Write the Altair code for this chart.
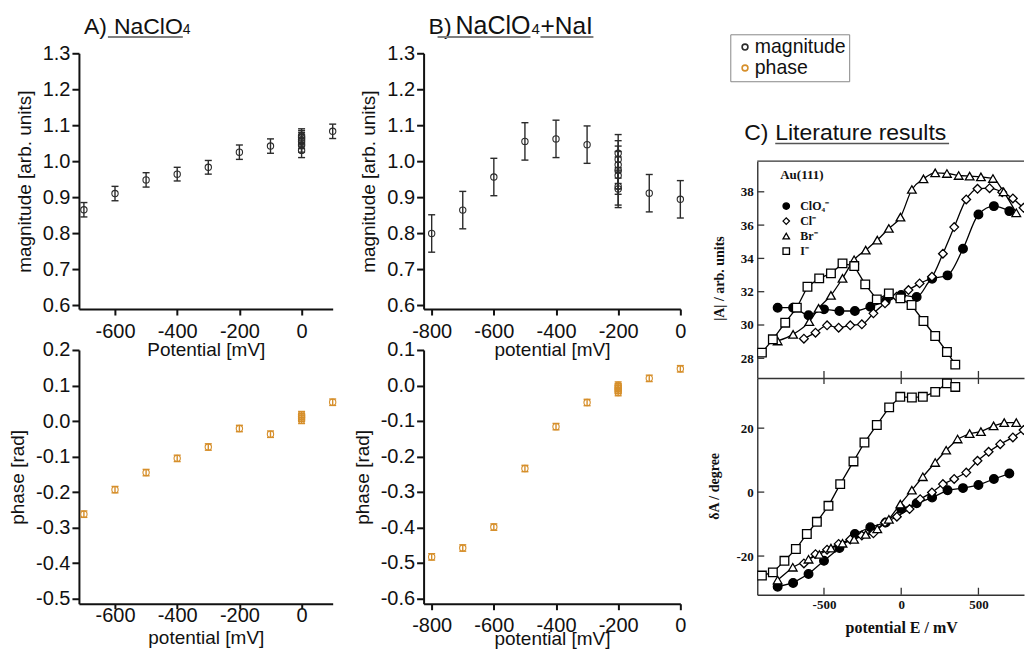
import altair as alt
import pandas as pd

SANS = "Liberation Sans"
SERIF = "Liberation Serif"
DARK = "#2b2b2b"
ORANGE = "#d68f2b"
BOX = "#333333"
TXT = "#111111"
MINUS = "replace(datum.label, '\u2212', '-')"

# ---------------- A) NaClO4 ----------------
A_mag_E = [-700, -600, -500, -400, -300, -200, -100, 0, 0, 0, 0, 0, 0, 100]
A_mag_val = [0.865, 0.910, 0.948, 0.964, 0.983, 1.025, 1.042, 1.030, 1.045, 1.055, 1.060, 1.065, 1.070, 1.083]
A_mag_err = [0.020, 0.020, 0.020, 0.019, 0.019, 0.020, 0.020, 0.020, 0.020, 0.020, 0.020, 0.020, 0.020, 0.020]

A_ph_E = [-700, -600, -500, -400, -300, -200, -100, 0, 0, 0, 0, 100]
A_ph_val = [-0.262, -0.193, -0.145, -0.105, -0.073, -0.021, -0.037, 0.002, 0.008, 0.013, 0.018, 0.053]
A_ph_err = [0.009, 0.009, 0.009, 0.009, 0.009, 0.009, 0.009, 0.009, 0.009, 0.009, 0.009, 0.009]

# ---------------- B) NaClO4 + NaI ----------------
B_mag_E = [-800, -700, -600, -500, -400, -300, -200, -200, -200, -200, -200, -200, -200, -100, 0]
B_mag_val = [0.799, 0.864, 0.956, 1.055, 1.062, 1.046, 0.923, 0.930, 0.960, 0.975, 0.990, 1.005, 1.022, 0.911, 0.894]
B_mag_err = [0.052, 0.052, 0.052, 0.052, 0.052, 0.052, 0.052, 0.052, 0.052, 0.052, 0.052, 0.052, 0.052, 0.052, 0.052]

B_ph_E = [-800, -700, -600, -500, -400, -300, -200, -200, -200, -200, -200, -100, 0]
B_ph_val = [-0.483, -0.458, -0.399, -0.234, -0.116, -0.048, -0.020, -0.014, -0.009, -0.004, 0.001, 0.020, 0.047]
B_ph_err = [0.009, 0.009, 0.009, 0.009, 0.009, 0.009, 0.009, 0.009, 0.009, 0.009, 0.009, 0.009, 0.009]

SERIES = ["magnitude", "phase"]
A_XTICKS = [-600, -400, -200, 0]
B_XTICKS = [-800, -600, -400, -200, 0]
MAG_TICKS = [0.6, 0.7, 0.8, 0.9, 1.0, 1.1, 1.2, 1.3]
A_PH_TICKS = [-0.5, -0.4, -0.3, -0.2, -0.1, 0.0, 0.1, 0.2]
B_PH_TICKS = [-0.6, -0.5, -0.4, -0.3, -0.2, -0.1, 0.0, 0.1]

# ---------------- C) Literature results ----------------
IONS = ["ClO\u2084\u207b", "Cl\u207b", "Br\u207b", "I\u207b"]
ClO4_E = [-800, -700, -600, -500, -400, -300, -200, -100, 0, 100, 200, 300, 400, 500, 600, 700]
ClO4_top = [31.04, 31.04, 30.58, 30.94, 30.84, 30.84, 31.10, 31.44, 31.80, 31.68, 32.78, 32.98, 34.58, 36.64, 37.14, 36.84]
Cl_top_E = [-630, -555, -480, -405, -330, -255, -180, -105, -30, 47, 119, 199, 270, 343, 421, 494, 572, 654, 723, 792, 855]
Cl_top = [29.18, 29.54, 29.98, 29.84, 29.98, 30.04, 30.70, 31.30, 31.70, 32.10, 32.50, 32.90, 34.28, 35.88, 37.54, 38.18, 38.22, 37.98, 37.60, 37.04, 36.74]
Br_top_E = [-800, -700, -595, -535, -455, -380, -305, -230, -155, -80, -5, 69, 144, 220, 296, 372, 443, 516, 594, 663, 745]
Br_top = [29.04, 29.44, 30.20, 31.00, 31.78, 32.80, 33.92, 34.50, 35.10, 35.80, 36.48, 38.14, 38.78, 39.14, 39.10, 38.98, 38.94, 38.90, 38.80, 38.00, 36.74]
I_top_E = [-902, -831, -751, -676, -607, -531, -455, -380, -304, -233, -158, -80, -5, 67, 144, 220, 296, 350]
I_top = [28.34, 29.14, 30.14, 31.04, 32.30, 32.80, 33.10, 33.70, 33.54, 32.44, 31.54, 31.90, 31.60, 31.20, 30.24, 29.34, 28.38, 27.62]

ClO4_bot = [-29.6, -28.4, -25.6, -21.5, -17.5, -13.1, -11.0, -9.5, -5.3, -3.5, -1.7, 0.6, 1.25, 2.2, 4.1, 5.8]
Cl_bot_E = [-630, -555, -480, -405, -330, -255, -180, -105, -28, 54, 123, 199, 270, 343, 421, 494, 566, 641, 723, 792, 855]
Cl_bot = [-22.3, -19.4, -18.0, -16.2, -14.8, -13.6, -12.9, -9.5, -7.7, -5.3, -2.2, -0.1, 2.5, 4.1, 6.1, 9.8, 12.6, 15.0, 17.1, 19.4, 21.2]
Br_bot_E = [-800, -702, -600, -530, -455, -380, -305, -230, -155, -80, -6, 69, 140, 220, 291, 365, 443, 516, 598, 667, 745]
Br_bot = [-27.5, -23.5, -21.0, -19.5, -17.5, -16.0, -14.8, -13.2, -11.5, -8.5, -3.75, 0.6, 4.8, 9.25, 13.1, 16.6, 18.3, 18.9, 20.7, 21.75, 21.75]
I_bot_E = [-902, -831, -756, -682, -611, -546, -471, -395, -309, -238, -158, -78, -6, 69, 140, 220, 296, 350]
I_bot = [-26.1, -25.1, -21.5, -17.8, -13.1, -9.3, -4.3, 2.5, 9.6, 15.5, 21.0, 26.5, 29.8, 29.6, 29.8, 31.35, 34.0, 32.9]

C_XTICKS = [-500, 0, 500]
C_TOP_TICKS = [28, 30, 32, 34, 36, 38]
C_BOT_TICKS = [-20, 0, 20]

BLANK = alt.Data(values=[{"k": 1}])

mag_legend = alt.Legend(orient="none", legendX=652, legendY=-19, title=None,
                        symbolType="circle", symbolSize=34, symbolStrokeWidth=1.6,
                        symbolFillColor="transparent", symbolOffset=2,
                        labelFont=SANS, labelFontSize=19.5, labelColor=TXT,
                        labelFontWeight="normal",
                        strokeColor="#888888", fillColor="white", padding=3,
                        rowPadding=0, labelOffset=0)

au_legend = alt.Legend(orient="none", legendX=702, legendY=116, title="Au(111)",
                       titleFont=SERIF, titleFontWeight="bold", titleFontSize=13,
                       titleColor=TXT, titlePadding=18,
                       labelFont=SERIF, labelFontWeight="bold", labelFontSize=12,
                       labelColor=TXT, symbolSize=42, symbolStrokeColor="black",
                       symbolStrokeWidth=1.3, rowPadding=3, labelOffset=8, padding=0)


def txt(s, x, y, size, font=SANS, weight="normal", color=TXT):
    return alt.Chart(BLANK).mark_text(text=s, font=font, fontSize=size, fontWeight=weight,
                                      color=color, align="left", baseline="alphabetic"
                                      ).encode(x=alt.value(x), y=alt.value(y))


def uline(x1, x2, y, color="#808080", w=2):
    return alt.Chart(BLANK).mark_rule(color=color, strokeWidth=w).encode(
        x=alt.value(x1), x2=alt.value(x2), y=alt.value(y))


def exp_layers(E, val, err, series, xdom, ydom, xticks, yticks, xtitle, ytitle,
               xlabpad, xtitlepad, tick=6):
    lo = [v - e for v, e in zip(val, err)]
    hi = [v + e for v, e in zip(val, err)]
    df = pd.DataFrame({"E": E, "val": val, "lo": lo, "hi": hi, "series": [series] * len(E)})
    xs = alt.Scale(domain=xdom, nice=False, zero=False)
    ys = alt.Scale(domain=ydom, nice=False, zero=False)
    xax = alt.Axis(values=xticks, title=xtitle, labelExpr=MINUS, labelPadding=xlabpad,
                   titlePadding=xtitlepad, tickSize=tick, labelFlush=False, labelOverlap=False)
    yax = alt.Axis(values=yticks, title=ytitle, format=".1f", labelExpr=MINUS, tickSize=7,
                   labelPadding=2, titlePadding=8, labelOverlap=False)
    st = alt.Stroke("series:N", scale=alt.Scale(domain=SERIES, range=[DARK, ORANGE]),
                    legend=mag_legend)
    base = alt.Chart(df)
    x = alt.X("E:Q", scale=xs, axis=xax)
    bars = base.mark_rule(strokeWidth=1.4).encode(
        x=x, y=alt.Y("lo:Q", scale=ys, axis=yax), y2="hi:Q", stroke=st)
    cap_lo = base.mark_rule(strokeWidth=1.4, xOffset=-3.5, x2Offset=3.5).encode(
        x=x, x2="E:Q", y=alt.Y("lo:Q", scale=ys, axis=yax), stroke=st)
    cap_hi = base.mark_rule(strokeWidth=1.4, xOffset=-3.5, x2Offset=3.5).encode(
        x=x, x2="E:Q", y=alt.Y("hi:Q", scale=ys, axis=yax), stroke=st)
    pts = base.mark_point(shape="circle", size=40, strokeWidth=1.1, opacity=1).encode(
        x=x, y=alt.Y("val:Q", scale=ys, axis=yax), stroke=st)
    return [bars, cap_lo, cap_hi, pts]


A_W, B_W, C_W = 254, 257, 267
TOP_H, BOT_H = 256, 254

A_top = alt.layer(
    *exp_layers(A_mag_E, A_mag_val, A_mag_err, "magnitude", [-716, 100], [0.589, 1.3],
                A_XTICKS, MAG_TICKS, "Potential [mV]", "magnitude [arb. units]", 7, -1),
    txt("A)", 5, -19, 23), txt("NaClO", 35, -19, 23), txt("4", 104, -19, 14),
    uline(29, 104, -16.3),
).properties(width=A_W, height=TOP_H)

A_bot = alt.layer(
    *exp_layers(A_ph_E, A_ph_val, A_ph_err, "phase", [-716, 100], [-0.514, 0.2],
                A_XTICKS, A_PH_TICKS, "potential [mV]", "phase [rad]", -3, 3, tick=5),
).properties(width=A_W, height=BOT_H)

B_top = alt.layer(
    *exp_layers(B_mag_E, B_mag_val, B_mag_err, "magnitude", [-826, 0], [0.589, 1.3],
                B_XTICKS, MAG_TICKS, "potential [mV]", "magnitude [arb. units]", 7, -1),
    txt("B)", 5, -19, 23), txt("NaClO", 32, -19, 25), txt("4", 108, -19, 15),
    txt("+NaI", 117, -19, 24.5),
    uline(14, 107, -16.3), uline(117, 170, -16.3),
).properties(width=B_W, height=TOP_H)

B_bot = alt.layer(
    *exp_layers(B_ph_E, B_ph_val, B_ph_err, "phase", [-826, 0], [-0.615, 0.1],
                B_XTICKS, B_PH_TICKS, "potential [mV]", "phase [rad]", 6, -6),
).properties(width=B_W, height=BOT_H)


def lit_df(pairs):
    frames = []
    for ion, (E, v) in zip(IONS, pairs):
        frames.append(pd.DataFrame({"E": E, "val": v, "ion": ion}))
    return pd.concat(frames, ignore_index=True)


df_top = lit_df([(ClO4_E, ClO4_top), (Cl_top_E, Cl_top), (Br_top_E, Br_top), (I_top_E, I_top)])
df_bot = lit_df([(ClO4_E, ClO4_bot), (Cl_bot_E, Cl_bot), (Br_bot_E, Br_bot), (I_bot_E, I_bot)])

C_XDOM = [-932, 795]
C_H = 217
shape_scale = alt.Scale(domain=IONS, range=["circle", "diamond", "triangle-up", "square"])
fill_scale = alt.Scale(domain=IONS, range=["black", "white", "white", "white"])
edge_scale = alt.Scale(domain=IONS, range=["black", "black", "black", "black"])


def lit_chart(df, ydom, yticks, ytitle, titleY, bottom):
    xs = alt.Scale(domain=C_XDOM, nice=False, zero=False)
    ys = alt.Scale(domain=ydom, nice=False, zero=False)
    if bottom:
        xax = alt.Axis(values=C_XTICKS, title="potential  E   / mV", ticks=False, labelExpr=MINUS,
                       labelFont=SERIF, labelFontWeight="bold", labelFontSize=13, labelPadding=4,
                       titleFont=SERIF, titleFontWeight="bold", titleFontSize=16, titlePadding=8,
                       titleX=144, domainColor=BOX, domainWidth=1.4, labelFlush=False)
    else:
        xax = alt.Axis(values=C_XTICKS, title=None, ticks=False, labels=False,
                       domainColor=BOX, domainWidth=1.4)
    yax = alt.Axis(values=yticks, title=ytitle, ticks=False, labelExpr=MINUS,
                   labelFont=SERIF, labelFontWeight="bold", labelFontSize=13, labelPadding=4,
                   titleFont=SERIF, titleFontWeight="bold", titleFontSize=14, titlePadding=14,
                   titleY=titleY, domainColor=BOX, domainWidth=1.4)
    x = alt.X("E:Q", scale=xs, axis=xax)
    y = alt.Y("val:Q", scale=ys, axis=yax)
    base = alt.Chart(df)
    layers = []
    if bottom:
        layers.append(base.mark_line(color="black", strokeWidth=1.3, clip=True).encode(
            x=x, y=y, detail="ion:N"))
    else:
        layers.append(base.transform_filter(
            alt.FieldOneOfPredicate(field="ion", oneOf=IONS[:3])).mark_line(
            interpolate="monotone", color="black", strokeWidth=1.3, clip=True).encode(
            x=x, y=y, detail="ion:N"))
        layers.append(base.transform_filter(
            alt.FieldEqualPredicate(field="ion", equal=IONS[3])).mark_line(
            color="black", strokeWidth=1.3, clip=True).encode(x=x, y=y))
    layers.append(base.mark_point(strokeWidth=1.3, size=75, opacity=1, filled=False,
                                  clip=True).encode(
        x=x, y=y,
        shape=alt.Shape("ion:N", scale=shape_scale, legend=au_legend),
        fill=alt.Fill("ion:N", scale=fill_scale, legend=au_legend),
        color=alt.Color("ion:N", scale=edge_scale, legend=au_legend)))
    yt = pd.DataFrame({"t": yticks})
    layers.append(alt.Chart(yt).mark_rule(color=BOX, strokeWidth=1.3).encode(
        y=alt.Y("t:Q", scale=ys, axis=yax), x=alt.value(0), x2=alt.value(7)))
    xt = alt.Chart(pd.DataFrame({"t": C_XTICKS}))
    if bottom:
        layers.append(xt.mark_rule(color=BOX, strokeWidth=1.3).encode(
            x=alt.X("t:Q", scale=xs, axis=xax), y=alt.value(0), y2=alt.value(6)))
        layers.append(xt.mark_rule(color=BOX, strokeWidth=1.3).encode(
            x=alt.X("t:Q", scale=xs, axis=xax), y=alt.value(C_H - 7), y2=alt.value(C_H)))
    else:
        layers.append(xt.mark_rule(color=BOX, strokeWidth=1.3).encode(
            x=alt.X("t:Q", scale=xs, axis=xax), y=alt.value(C_H - 7), y2=alt.value(C_H)))
        layers.append(alt.Chart(BLANK).mark_rule(color=BOX, strokeWidth=1.4).encode(
            x=alt.value(0), x2=alt.value(C_W), y=alt.value(0)))
    return alt.layer(*layers).properties(width=C_W, height=C_H)


C_top = lit_chart(df_top, [26.82, 39.84], C_TOP_TICKS, "|A|   / arb. units", 117, False)
C_bot = lit_chart(df_bot, [-32.1, 35.7], C_BOT_TICKS, "\u03b4A   / degree", 108, True)

C_HEAD_H = 108
C_head = alt.layer(
    txt("C)", -13, 87, 23), txt("Literature results", 18, 87, 23),
    uline(18, 192, 90.3, color="#555555", w=1.6),
).properties(width=C_W, height=C_HEAD_H)

AB = alt.concat(A_top, B_top, A_bot, B_bot, columns=2,
                spacing={"row": 41, "column": 91}, bounds="flush")
colC = alt.vconcat(C_head, C_top, C_bot, spacing=0, bounds="flush")

chart = alt.hconcat(AB, colC, spacing=21).properties(
    padding={"left": 0, "top": 6, "right": 0, "bottom": 0}
).configure_view(stroke=None).configure_axis(
    domainColor=TXT, domainWidth=2, tickColor=TXT, tickWidth=2,
    labelFont=SANS, labelFontSize=20, labelColor=TXT,
    titleFont=SANS, titleFontSize=19, titleFontWeight="normal", titleColor=TXT,
    grid=False,
)

chart.save("out.html", embed_options={"renderer": "svg", "actions": False})
